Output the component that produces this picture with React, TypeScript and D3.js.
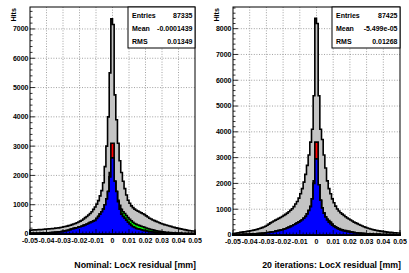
import React from 'react';
import * as d3 from 'd3';

const xRange: [number, number] = [-0.05, 0.05];
const nBins = 100;
const xTicks = [-0.05, -0.04, -0.03, -0.02, -0.01, 0, 0.01, 0.02, 0.03, 0.04, 0.05];
const xTickLabels = ['-0.05', '-0.04', '-0.03', '-0.02', '-0.01', '0', '0.01', '0.02', '0.03', '0.04', '0.05'];

// Nominal panel
const nomGray = [
  130, 135, 140, 140, 145, 150, 150, 155, 160, 165,
  170, 175, 180, 185, 190, 200, 205, 210, 220, 230,
  245, 255, 270, 285, 300, 320, 340, 360, 385, 410,
  440, 470, 510, 560, 600, 650, 700, 760, 840, 920,
  1020, 1140, 1300, 1480, 1750, 2300, 3000, 4000, 5500, 7350,
  7150, 4750, 3900, 3100, 2500, 2100, 1800, 1550, 1330, 1150,
  1050, 960, 900, 850, 810, 780, 750, 720, 690, 660,
  620, 580, 540, 510, 480, 455, 430, 410, 385, 360,
  340, 320, 305, 290, 275, 260, 240, 225, 210, 200,
  185, 175, 160, 150, 140, 125, 115, 110, 105, 100,
];
const nomGreen = [
  20, 20, 22, 24, 25, 27, 28, 30, 32, 35,
  38, 40, 44, 48, 52, 56, 60, 66, 72, 80,
  90, 100, 115, 130, 150, 170, 185, 200, 215, 230,
  245, 265, 285, 310, 335, 360, 390, 415, 440, 460,
  530, 600, 680, 760, 850, 1000, 1200, 1450, 1950, 2600,
  2600, 1800, 1450, 1150, 980, 840, 760, 700, 630, 560,
  500, 450, 400, 360, 330, 305, 285, 265, 245, 225,
  205, 185, 170, 155, 140, 125, 112, 100, 90, 82,
  74, 66, 60, 54, 48, 43, 38, 34, 30, 26,
  20, 20, 19, 18, 18, 17, 16, 16, 15, 15,
];
const nomRed = [
  20, 20, 22, 24, 25, 27, 28, 30, 32, 35,
  38, 40, 44, 48, 52, 56, 60, 66, 72, 80,
  90, 100, 115, 130, 150, 170, 185, 200, 215, 230,
  245, 265, 285, 310, 335, 360, 390, 415, 440, 460,
  530, 600, 680, 760, 850, 1000, 1200, 1450, 2100, 3100,
  3100, 1800, 1450, 1100, 850, 680, 600, 540, 470, 400,
  340, 290, 250, 220, 190, 175, 160, 145, 130, 115,
  100, 90, 80, 72, 66, 60, 56, 52, 48, 44,
  40, 38, 35, 33, 31, 30, 28, 26, 24, 22,
  20, 20, 19, 18, 18, 17, 16, 16, 15, 15,
];
const nomBlue = [
  20, 20, 22, 24, 25, 27, 28, 30, 32, 35,
  38, 40, 44, 48, 52, 56, 60, 66, 72, 80,
  90, 100, 115, 130, 150, 170, 185, 200, 215, 230,
  245, 265, 285, 310, 335, 360, 390, 415, 440, 460,
  530, 600, 680, 760, 850, 1000, 1200, 1450, 1950, 2600,
  2600, 1800, 1450, 1100, 850, 680, 600, 540, 470, 400,
  340, 290, 250, 220, 190, 175, 160, 145, 130, 115,
  100, 90, 80, 72, 66, 60, 56, 52, 48, 44,
  40, 38, 35, 33, 31, 30, 28, 26, 24, 22,
  20, 20, 19, 18, 18, 17, 16, 16, 15, 15,
];

// 20 iterations panel
const iterGray = [
  60, 70, 80, 90, 100, 110, 120, 125, 140, 150,
  165, 175, 190, 205, 220, 240, 260, 285, 310, 340,
  380, 420, 470, 505, 540, 575, 610, 645, 680, 720,
  760, 800, 850, 900, 960, 1020, 1100, 1200, 1300, 1430,
  1600, 1800, 2050, 2350, 2700, 3100, 3600, 4100, 5400, 8400,
  8200, 5400, 4100, 3700, 3100, 2600, 2100, 1800, 1600, 1400,
  1250, 1120, 1010, 930, 860, 810, 760, 710, 660, 620,
  580, 540, 500, 470, 440, 410, 380, 350, 320, 295,
  270, 250, 230, 215, 200, 185, 170, 160, 150, 140,
  130, 120, 110, 105, 100, 95, 90, 85, 80, 75,
];
const iterGreen = [
  15, 16, 17, 18, 20, 22, 24, 26, 28, 30,
  33, 36, 40, 44, 48, 53, 58, 64, 70, 78,
  86, 95, 105, 115, 125, 140, 155, 170, 185, 205,
  225, 245, 270, 295, 325, 360, 395, 430, 470, 500,
  540, 590, 650, 720, 820, 950, 1100, 1400, 2000, 2950,
  2950, 1950, 1350, 1050, 850, 700, 620, 560, 500, 420,
  360, 320, 280, 250, 220, 200, 185, 170, 155, 140,
  120, 100, 92, 84, 77, 70, 64, 58, 53, 48,
  44, 40, 37, 34, 31, 28, 26, 24, 22, 20,
  19, 18, 17, 16, 15, 14, 13, 12, 11, 10,
];
const iterRed = [
  15, 16, 17, 18, 20, 22, 24, 26, 28, 30,
  33, 36, 40, 44, 48, 53, 58, 64, 70, 78,
  86, 95, 105, 115, 125, 140, 155, 170, 185, 205,
  225, 245, 270, 295, 325, 360, 395, 430, 470, 500,
  540, 590, 650, 720, 820, 950, 1100, 1400, 2100, 3600,
  3600, 1950, 1350, 1050, 850, 700, 580, 500, 440, 380,
  330, 290, 255, 225, 200, 180, 160, 145, 130, 120,
  110, 100, 92, 84, 77, 70, 64, 58, 53, 48,
  44, 40, 37, 34, 31, 28, 26, 24, 22, 20,
  19, 18, 17, 16, 15, 14, 13, 12, 11, 10,
];
const iterBlue = [
  15, 16, 17, 18, 20, 22, 24, 26, 28, 30,
  33, 36, 40, 44, 48, 53, 58, 64, 70, 78,
  86, 95, 105, 115, 125, 140, 155, 170, 185, 205,
  225, 245, 270, 295, 325, 360, 395, 430, 470, 500,
  540, 590, 650, 720, 820, 950, 1100, 1400, 2000, 2950,
  2950, 1950, 1350, 1050, 850, 700, 580, 500, 440, 380,
  330, 290, 255, 225, 200, 180, 160, 145, 130, 120,
  110, 100, 92, 84, 77, 70, 64, 58, 53, 48,
  44, 40, 37, 34, 31, 28, 26, 24, 22, 20,
  19, 18, 17, 16, 15, 14, 13, 12, 11, 10,
];

const statLabels = ['Entries', 'Mean', 'RMS'];
const nomStats = ['87335', '-0.0001439', '0.01349'];
const iterStats = ['87425', '-5.499e-05', '0.01268'];

const FONT = '"Liberation Sans", Arial, Helvetica, sans-serif';

type PanelProps = {
  id: string;
  padX0: number;
  padX1: number;
  left: number;
  right: number;
  top: number;
  bottom: number;
  yMax: number;
  yTicks: number[];
  series: { values: number[]; fill: string }[];
  stats: string[];
  statLeft: number;
  title: string;
};

function Panel(p: PanelProps) {
  const x = d3.scaleLinear().domain(xRange).range([p.left, p.right]);
  const y = d3.scaleLinear().domain([0, p.yMax]).range([p.bottom, p.top]);
  const bw = (xRange[1] - xRange[0]) / nBins;
  const area = d3
    .area<{ e: number; v: number }>()
    .curve(d3.curveStepAfter)
    .x((d) => x(d.e))
    .y0(y(0))
    .y1((d) => y(d.v));
  const toPts = (vals: number[]) => {
    const pts = vals.map((v, i) => ({ e: xRange[0] + i * bw, v }));
    pts.push({ e: xRange[1], v: vals[vals.length - 1] });
    return pts;
  };
  const minorX = d3.range(0, 51).map((i) => xRange[0] + i * 0.002);
  const minorY = d3.range(0, p.yMax, 200);
  const majorLen = 5;
  const minorLen = 2.5;
  const rowY = [p.top + 10.5, p.top + 24, p.top + 37.3];
  return (
    <g>
      <defs>
        <clipPath id={`clip-${p.id}`}>
          <rect x={p.padX0} y={0} width={p.padX1 - p.padX0} height={273} />
        </clipPath>
      </defs>
      <g clipPath={`url(#clip-${p.id})`}>
        {xTicks.slice(1, -1).map((t) => (
          <line key={'gx' + t} x1={x(t)} x2={x(t)} y1={p.top} y2={p.bottom} stroke="#8a8a8a" strokeWidth={0.8} strokeDasharray="1 1.6" />
        ))}
        {p.yTicks.slice(1).map((t) => (
          <line key={'gy' + t} x1={p.left} x2={p.right} y1={y(t)} y2={y(t)} stroke="#8a8a8a" strokeWidth={0.8} strokeDasharray="1 1.6" />
        ))}
        {p.series.map((s, i) => (
          <path key={i} d={area(toPts(s.values)) || ''} fill={s.fill} stroke="#000" strokeWidth={1.6} strokeLinejoin="miter" />
        ))}
        <rect x={p.left} y={p.top} width={p.right - p.left} height={p.bottom - p.top} fill="none" stroke="#000" strokeWidth={1} />
        {minorY.map((t) => (
          <line key={'ty' + t} x1={p.left} x2={p.left + (t % 1000 === 0 ? majorLen : minorLen)} y1={y(t)} y2={y(t)} stroke="#000" strokeWidth={0.8} />
        ))}
        {minorX.map((t, i) => (
          <line key={'tx' + i} x1={x(t)} x2={x(t)} y1={p.bottom} y2={p.bottom - (i % 5 === 0 ? majorLen : minorLen)} stroke="#000" strokeWidth={0.8} />
        ))}
        {p.yTicks.map((t) => (
          <text key={'ly' + t} x={p.left - 1.5} y={y(t)} dy="0.35em" textAnchor="end" fontFamily={FONT} fontWeight="bold" fontSize={7} fill="#000">
            {t}
          </text>
        ))}
        {xTicks.map((t, i) => (
          <text key={'lx' + i} x={x(t)} y={p.bottom + 8.5} textAnchor="middle" fontFamily={FONT} fontWeight="bold" fontSize={7} fill="#000">
            {xTickLabels[i]}
          </text>
        ))}
        <text transform={`translate(${p.left - 17},${p.top + 1}) rotate(-90)`} textAnchor="end" dy="0.35em" fontFamily={FONT} fontWeight="bold" fontSize={7.2} fill="#000">
          Hits
        </text>
        <rect x={p.statLeft} y={p.top} width={p.right - p.statLeft} height={41} fill="#fff" stroke="#000" strokeWidth={1} />
        {statLabels.map((l, i) => (
          <g key={l}>
            <text x={p.statLeft + 4} y={rowY[i]} fontFamily={FONT} fontWeight="bold" fontSize={7} fill="#000">
              {l}
            </text>
            <text x={p.right - 2.5} y={rowY[i]} textAnchor="end" fontFamily={FONT} fontWeight="bold" fontSize={7} fill="#000">
              {p.stats[i]}
            </text>
          </g>
        ))}
        <text x={p.right + 1} y={268} textAnchor="end" fontFamily={FONT} fontWeight="bold" fontSize={8.8} fill="#000">
          {p.title}
        </text>
      </g>
    </g>
  );
}

export default function App() {
  return (
    <svg width={409} height={273} style={{ position: 'absolute', left: 0, top: 0, background: '#fff' }}>
      <rect x={0} y={0} width={409} height={273} fill="#fff" />
      <Panel
        id="nom"
        padX0={0}
        padX1={203}
        left={30}
        right={195}
        top={7}
        bottom={234}
        yMax={7750}
        yTicks={[0, 1000, 2000, 3000, 4000, 5000, 6000, 7000]}
        series={[
          { values: nomGray, fill: '#c4c4c4' },
          { values: nomGreen, fill: '#00ff00' },
          { values: nomRed, fill: '#ff0000' },
          { values: nomBlue, fill: '#0000ff' },
        ]}
        stats={nomStats}
        statLeft={128}
        title="Nominal: LocX residual [mm]"
      />
      <Panel
        id="iter"
        padX0={203}
        padX1={409}
        left={233}
        right={400}
        top={7}
        bottom={235}
        yMax={8840}
        yTicks={[0, 1000, 2000, 3000, 4000, 5000, 6000, 7000, 8000]}
        series={[
          { values: iterGray, fill: '#c4c4c4' },
          { values: iterGreen, fill: '#00ff00' },
          { values: iterRed, fill: '#ff0000' },
          { values: iterBlue, fill: '#0000ff' },
        ]}
        stats={iterStats}
        statLeft={332}
        title="20 iterations: LocX residual [mm]"
      />
    </svg>
  );
}
